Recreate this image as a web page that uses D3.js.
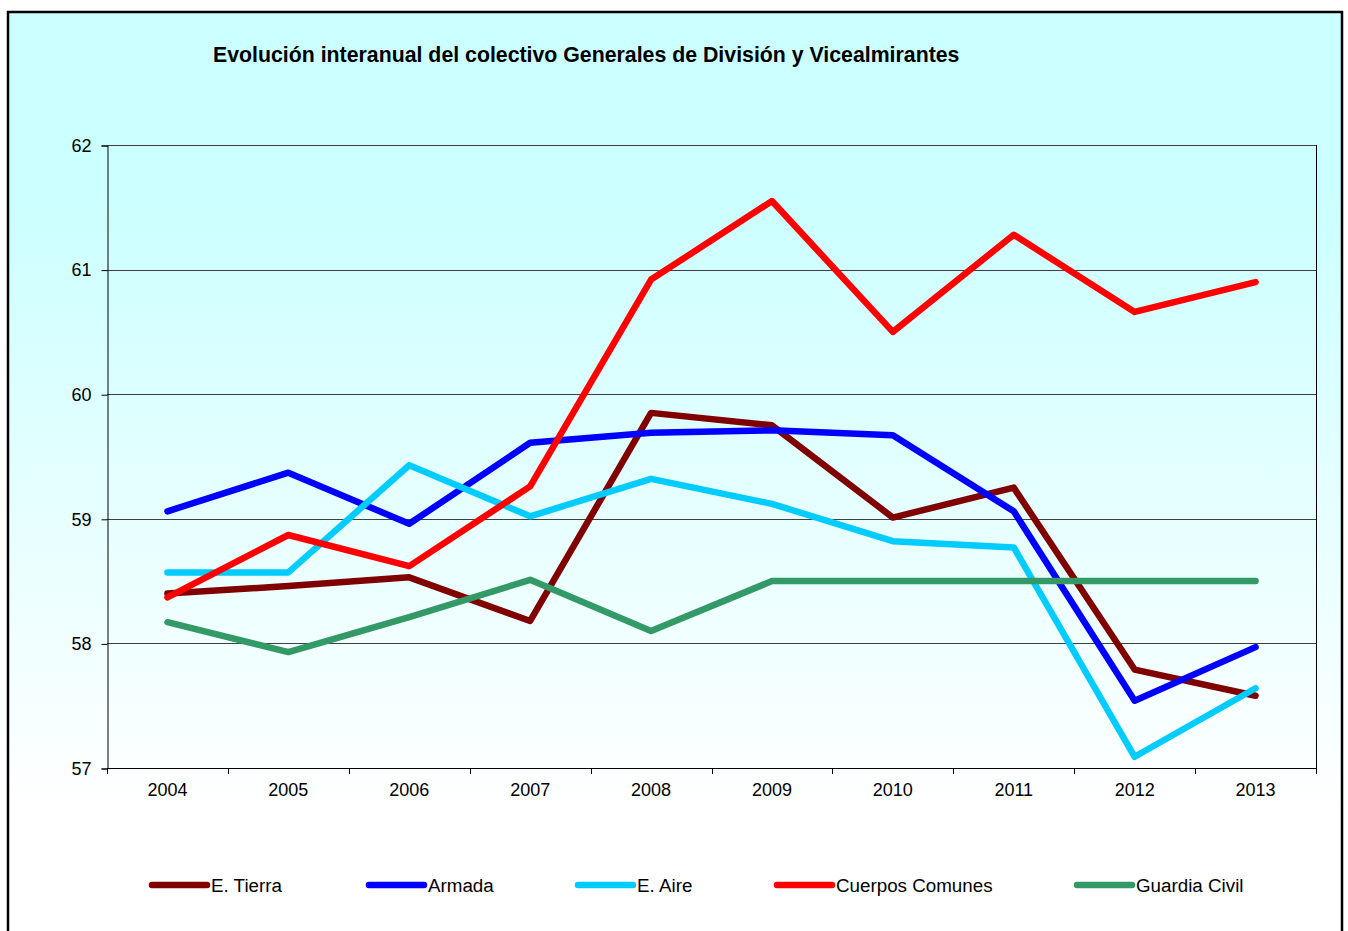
<!DOCTYPE html>
<html>
<head>
<meta charset="utf-8">
<script src="https://cdn.jsdelivr.net/npm/d3@7"></script>
<style>
  html, body { margin: 0; padding: 0; background: #ffffff; }
  svg { display: block; font-family: "Liberation Sans", Arial, sans-serif; }
</style>
</head>
<body>
<svg id="chart" width="1348" height="931"></svg>
<script>
const years = ["2004","2005","2006","2007","2008","2009","2010","2011","2012","2013"];
const yTicks = [57, 58, 59, 60, 61, 62];
const titleText = "Evolución interanual del colectivo Generales de División y Vicealmirantes";

const seriesNames = ["E. Tierra", "Armada", "E. Aire", "Cuerpos Comunes", "Guardia Civil"];
const tierra   = [58.40, 58.46, 58.53, 58.18, 59.85, 59.75, 59.01, 59.25, 57.79, 57.58];
const armada   = [59.06, 59.37, 58.96, 59.61, 59.69, 59.71, 59.67, 59.06, 57.54, 57.97];
const aire     = [58.57, 58.57, 59.43, 59.02, 59.32, 59.12, 58.82, 58.77, 57.09, 57.64];
const cuerpos  = [58.37, 58.87, 58.62, 59.26, 60.92, 61.55, 60.50, 61.28, 60.66, 60.90];
const guardia  = [58.17, 57.93, 58.21, 58.51, 58.10, 58.50, 58.50, 58.50, 58.50, 58.50];
const seriesColors = ["#800000", "#0000FF", "#00CCFF", "#FF0000", "#339966"];

const seriesValues = [tierra, armada, aire, cuerpos, guardia];
const series = seriesNames.map((name, i) => ({ name, color: seriesColors[i], values: seriesValues[i] }));

const svg = d3.select("#chart");

// background gradient
const defs = svg.append("defs");
const grad = defs.append("linearGradient").attr("id", "bg").attr("x1", 0).attr("y1", 0).attr("x2", 0).attr("y2", 1);
grad.append("stop").attr("offset", "0%").attr("stop-color", "#CCFFFF");
grad.append("stop").attr("offset", "20%").attr("stop-color", "#CCFFFF");
grad.append("stop").attr("offset", "85%").attr("stop-color", "#FFFFFF");
grad.append("stop").attr("offset", "100%").attr("stop-color", "#FFFFFF");

svg.append("rect")
  .attr("x", 8).attr("y", 12).attr("width", 1334).attr("height", 940)
  .attr("fill", "url(#bg)").attr("stroke", "#000").attr("stroke-width", 2.5);

const pLeft = 107, pRight = 1316, pTop = 145, pBottom = 768;

const x = d3.scaleBand().domain(years).range([pLeft, pRight]).padding(0);
const y = d3.scaleLinear().domain([57, 62]).range([pBottom, pTop]);

// gridlines
svg.append("g").selectAll("line").data(yTicks.slice(1)).join("line")
  .attr("x1", pLeft).attr("x2", pRight)
  .attr("y1", d => Math.round(y(d)) + 0.5).attr("y2", d => Math.round(y(d)) + 0.5)
  .attr("stroke", "#404040").attr("stroke-width", 1);

// plot right border
svg.append("line").attr("x1", pRight + 0.5).attr("x2", pRight + 0.5).attr("y1", pTop).attr("y2", pBottom)
  .attr("stroke", "#000").attr("stroke-width", 1);

// y axis
const yAxis = d3.axisLeft(y).tickValues(yTicks).tickSize(6).tickPadding(10).tickFormat(d3.format("d"));
const gy = svg.append("g").attr("transform", `translate(${pLeft + 0.5},0.5)`).call(yAxis);
gy.select(".domain").attr("stroke", "#000");
gy.selectAll(".tick line").attr("stroke", "#000");
gy.selectAll("text").attr("font-size", 18).attr("fill", "#000")
  .attr("font-family", "'Liberation Sans', Arial, sans-serif");

// x axis (labels)
const xAxis = d3.axisBottom(x).tickSize(0).tickPadding(15);
const gx = svg.append("g").attr("transform", `translate(0,${pBottom + 0.5})`).call(xAxis);
gx.select(".domain").remove();
gx.selectAll("text").attr("font-size", 18).attr("fill", "#000")
  .attr("font-family", "'Liberation Sans', Arial, sans-serif");
svg.append("line").attr("x1", pLeft).attr("x2", pRight + 1).attr("y1", pBottom + 0.5).attr("y2", pBottom + 0.5)
  .attr("stroke", "#000");
// tick marks at category boundaries
const boundaries = years.map(d => x(d)).concat([x(years[years.length - 1]) + x.bandwidth()]);
svg.append("g").selectAll("line").data(boundaries).join("line")
  .attr("x1", d => Math.round(d) + 0.5).attr("x2", d => Math.round(d) + 0.5)
  .attr("y1", pBottom).attr("y2", pBottom + 6)
  .attr("stroke", "#000");

// lines
const line = d3.line()
  .x((d, i) => x(years[i]) + x.bandwidth() / 2)
  .y(d => y(d));

svg.append("g").selectAll("path").data(series).join("path")
  .attr("d", d => line(d.values))
  .attr("fill", "none")
  .attr("stroke", d => d.color)
  .attr("stroke-width", 6.5)
  .attr("stroke-linecap", "round")
  .attr("stroke-linejoin", "round");

// title
svg.append("text")
  .attr("x", 213).attr("y", 62)
  .attr("font-size", 21.3).attr("font-weight", "bold").attr("fill", "#000")
  .text(titleText);

// legend
const legendX = [152, 369, 578, 777, 1077];
const lg = svg.append("g").selectAll("g").data(series).join("g")
  .attr("transform", (d, i) => `translate(${legendX[i]},885)`);
lg.append("line").attr("x1", 0).attr("x2", 55).attr("y1", 0).attr("y2", 0)
  .attr("stroke", d => d.color).attr("stroke-width", 6.5).attr("stroke-linecap", "round");
lg.append("text").attr("x", 59).attr("y", 7)
  .attr("font-size", 18.8).attr("fill", "#000")
  .text(d => d.name);
</script>
</body>
</html>
